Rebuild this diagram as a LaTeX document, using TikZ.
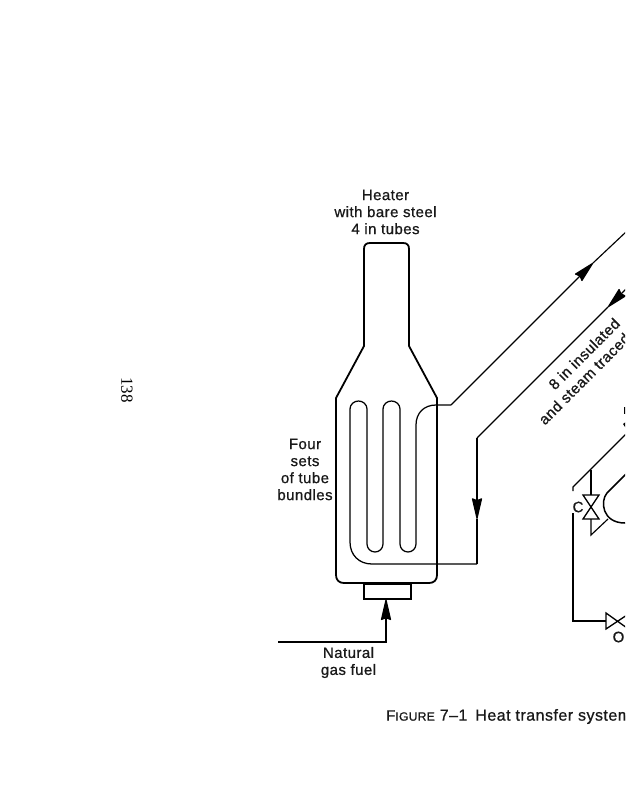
\documentclass[tikz,border=0pt]{standalone}
\usepackage{fontspec}
\setmainfont{Liberation Sans}[LetterSpace=3,RawFeature={embolden=0.8}]
\newfontfamily\pageserif{Liberation Serif}
\usetikzlibrary{arrows.meta}
\tikzset{
  shell/.style={draw=black,line width=1.8pt,line join=round},
  pipe/.style={draw=black,line width=1.25pt},
  thinpipe/.style={draw=black,line width=1.15pt},
  flow/.style={-{Stealth[length=23pt,width=10.5pt,inset=2pt,round]}},
  lbl/.style={inner sep=0pt,font=\fontsize{15}{17}\selectfont,align=center,text=black!90},
  rot/.style={inner sep=0pt,font=\fontsize{15}{17}\selectfont,rotate=45,anchor=west,text=black!90},
}
\begin{document}
\begin{tikzpicture}[x=1pt,y=-1pt]
\useasboundingbox (0,0) rectangle (625,800);
\clip (0,0) rectangle (625,800);
\fill[white] (0,0) rectangle (625,800);
% heater casing
\draw[shell] (364,346) -- (364,249) .. controls (364,245) and (366,243) .. (370,243) -- (403,243)
  .. controls (407,243) and (409,245) .. (409,249) -- (409,346) -- (437,398) -- (437,575)
  .. controls (437,580) and (434,583) .. (429,583) -- (344,583)
  .. controls (339,583) and (336,580) .. (336,575) -- (336,398) -- cycle;
\node[draw=black,line width=1.5pt,minimum width=47pt,minimum height=15pt,inner sep=0pt,anchor=north west] (burner) at (363,583) {};
% coordinates
\coordinate (hotout) at (451,405);
\coordinate (hottip) at (593,263);
\coordinate (hotend) at (627,231);
\coordinate (retstart) at (630,285);
\coordinate (rettip) at (608,307);
\coordinate (retbend) at (477,438);
\coordinate (rettip2) at (477,519);
\coordinate (retin) at (477,564);
\coordinate (fuelstart) at (278,642);
\coordinate (fuelbend) at (386,642);
% tube bundle
\draw[pipe] (retin) -- (372,564) .. controls (359,564) and (350,555) .. (350,542) -- (350,409)
  .. controls (350,404.4) and (354,401) .. (358.5,401) .. controls (363,401) and (367,404.4) .. (367,409)
  -- (367,544) .. controls (367,548.6) and (370.7,552) .. (375,552) .. controls (379.3,552) and (383,548.6) .. (383,544)
  -- (383,409) .. controls (383,404.4) and (387,401) .. (391.5,401) .. controls (396,401) and (400,404.4) .. (400,409)
  -- (400,544) .. controls (400,548.6) and (403.7,552) .. (408,552) .. controls (412.3,552) and (416,548.6) .. (416,544)
  -- (416,425) .. controls (416,413) and (424,405) .. (436,405) -- (hotout);
% pipes
\draw[thinpipe,flow] (hotout) -- (hottip);
\draw[thinpipe] (hottip) -- (hotend);
\draw[thinpipe,flow] (retstart) -- (rettip);
\draw[thinpipe] (rettip) -- (retbend);
\draw[thinpipe,flow] (retbend) -- (rettip2);
\draw[thinpipe] (rettip2) -- (retin);
\draw[pipe,flow] (fuelstart) -- (fuelbend) -- (burner.south -| fuelbend);
% right-hand side
\coordinate (a1) at (627,433);
\coordinate (a2) at (573,487);
\coordinate (a3) at (573,491);
\coordinate (b1) at (573,513);
\coordinate (b2) at (573,621);
\coordinate (b3) at (606,621);
\draw[thinpipe] (a1) -- (a2) -- (a3);
\draw[thinpipe] (b1) -- (b2) -- (b3);
\coordinate (cvtop) at (591,470);
\coordinate (cvup) at (591,495);
\coordinate (cvlo) at (591,519);
\coordinate (cvend) at (591,535);
\coordinate (vj) at (608,519);
\draw[thinpipe] (cvtop) -- (cvup);
\draw[thinpipe] (cvlo) -- (cvend) -- (vj);
\draw[thinpipe,line width=1.3pt] (583,495) -- (599,495) -- (583,519) -- (599,519) -- cycle;
\draw[thinpipe,line width=1.5pt] (627,473) -- (607,493) .. controls (600,501) and (602,523) .. (625,523) -- (627,523);
\draw[thinpipe,line width=1.3pt] (627,615) -- (606,629) -- (606,613) -- (627,628);
\fill (623,424) -- (627,421) -- (627,430) -- cycle;
\fill (624,407) rectangle (627,414);
% labels
\node[lbl] (heater) at (385.5,212) {Heater\\with bare steel\\4 in tubes};
\node[lbl] (four) at (305,469.5) {Four\\sets\\of tube\\bundles};
\node[lbl] (gas) at (348.5,662.5) {Natural\\gas fuel};
\node[rot] (eight) at (551,387) {8 in insulated};
\node[rot] (steam) at (541,422) {and steam traced};
\node[lbl] (c) at (578,507) {C};
\node[lbl] (o) at (618.5,637) {O};
\node[inner sep=0pt,anchor=west,text=black!90,font=\fontsize{16}{16}\selectfont] (cap) at (386,716.5) {{\fontsize{15}{16}\selectfont F}{\fontsize{12}{16}\selectfont IGURE} 7--1\hspace{8pt}Heat transfer system};
\node[inner sep=0pt,rotate=-90,font=\pageserif\fontsize{17}{18}\selectfont] (page) at (127,390) {138};
\end{tikzpicture}
\end{document}
